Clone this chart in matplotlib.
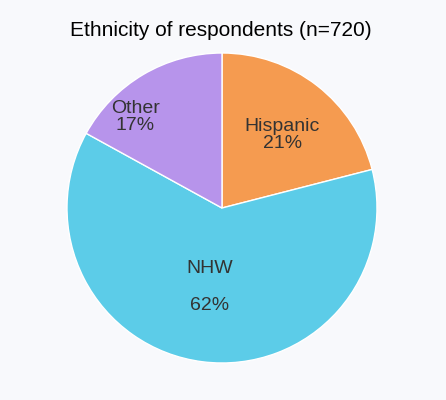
import matplotlib.pyplot as plt

categories = ["Hispanic", "NHW", "Other"]
values = [21, 62, 17]
colors = ["#f59b50", "#5ccce8", "#b794eb"]

plt.rcParams['font.family'] = ['Liberation Sans', 'DejaVu Sans']
bg = "#f8f9fc"
fig = plt.figure(figsize=(4.46, 4.0), dpi=100, facecolor=bg)
ax = fig.add_axes([(222-155)/446, (400-208-155)/400, 310/446, 310/400])
ax.set_facecolor(bg)
ax.pie(values, colors=colors, startangle=90, counterclock=False,
       wedgeprops=dict(edgecolor="white", linewidth=1))
ax.set_xlim(-1, 1); ax.set_ylim(-1, 1); ax.set_aspect('equal')
tc = "#333333"
ax.text(0.39, 0.47, f"{categories[0]}\n{values[0]}%", ha='center', va='center', fontsize=14, color=tc, linespacing=1.0)
ax.text(-0.56, 0.59, f"{categories[2]}\n{values[2]}%", ha='center', va='center', fontsize=14, color=tc, linespacing=1.0)
ax.text(-0.08, -0.39, categories[1], ha='center', va='center', fontsize=14, color=tc)
ax.text(-0.08, -0.63, f"{values[1]}%", ha='center', va='center', fontsize=14, color=tc)
fig.text(0.495, 1-30/400, "Ethnicity of respondents (n=720)", ha='center', va='center', fontsize=15, color='black')
fig.savefig("out.png", dpi=100, facecolor=bg)
